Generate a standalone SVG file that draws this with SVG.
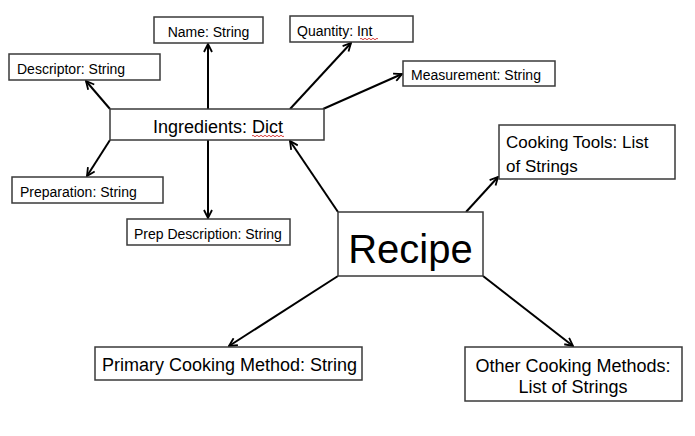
<svg xmlns="http://www.w3.org/2000/svg" width="695" height="436" viewBox="0 0 695 436">
<style>
.box{fill:#fff;stroke:#3a3a3a;stroke-width:1.5}
.t{font-family:"Liberation Sans",Arial,sans-serif;fill:#000}
.s{font-size:14px}
.m{font-size:17.5px}
.c{stroke:#000;stroke-width:2;fill:none;marker-end:url(#ah)}
.sq{stroke:#d01010;stroke-width:0.8;fill:none}
</style>
<defs>
<marker id="ah" viewBox="0 0 10 10" refX="9" refY="5" markerWidth="10" markerHeight="10" markerUnits="userSpaceOnUse" orient="auto">
<path d="M1,1 L9,5 L1,9" fill="none" stroke="#000" stroke-width="1.8"/>
</marker>
</defs>
<rect width="695" height="436" fill="#fff"/>
<g id="connectors">
<line class="c" x1="110" y1="109" x2="86" y2="81"/>
<line class="c" x1="208" y1="109" x2="208" y2="44"/>
<line class="c" x1="290" y1="109" x2="351" y2="43"/>
<line class="c" x1="323" y1="109" x2="402" y2="74"/>
<line class="c" x1="110" y1="140" x2="87" y2="176"/>
<line class="c" x1="208" y1="140" x2="208" y2="218"/>
<line class="c" x1="338" y1="212" x2="290" y2="141"/>
<line class="c" x1="466" y1="212" x2="498" y2="177"/>
<line class="c" x1="338" y1="276" x2="229" y2="346"/>
<line class="c" x1="483" y1="276" x2="573" y2="346"/>
</g>
<g id="name"><rect class="box" x="154" y="17" width="109" height="26"/><text class="t s" x="208.5" y="37" text-anchor="middle">Name: String</text></g>
<g id="descriptor"><rect class="box" x="9" y="54" width="151" height="26"/><text class="t s" x="17" y="74">Descriptor: String</text></g>
<g id="quantity"><rect class="box" x="290" y="16" width="123" height="26"/><text class="t s" x="297" y="36">Quantity: Int</text><path class="sq" d="M360,39 q1,-1.5 2,0 t2,0 t2,0 t2,0 t2,0 t2,0 t2,0 t2,0 t2,0"/></g>
<g id="measurement"><rect class="box" x="403" y="61" width="152" height="25"/><text class="t s" x="411" y="80">Measurement: String</text></g>
<g id="ingredients"><rect class="box" x="110" y="109" width="214" height="31"/><text class="t" font-size="18" x="153" y="133">Ingredients: Dict</text><path class="sq" d="M252,136 q1,-1.5 2,0 t2,0 t2,0 t2,0 t2,0 t2,0 t2,0 t2,0 t2,0 t2,0 t2,0 t2,0 t2,0 t2,0 t2,0 t2,0"/></g>
<g id="preparation"><rect class="box" x="12" y="177" width="151" height="26"/><text class="t s" x="20" y="197">Preparation: String</text></g>
<g id="prep-description"><rect class="box" x="127" y="219" width="163" height="26"/><text class="t s" x="134" y="239">Prep Description: String</text></g>
<g id="cooking-tools"><rect class="box" x="499" y="125" width="176" height="54"/><text class="t" font-size="17" x="506" y="148">Cooking Tools: List</text><text class="t" font-size="17" x="506" y="172">of Strings</text></g>
<g id="recipe"><rect class="box" x="338" y="212" width="145" height="64"/><text class="t" font-size="40" x="410.5" y="263" text-anchor="middle">Recipe</text></g>
<g id="primary"><rect class="box" x="95" y="347" width="267" height="33"/><text class="t" font-size="18" x="102" y="371">Primary Cooking Method: String</text></g>
<g id="other"><rect class="box" x="465" y="347" width="217" height="54"/><text class="t" font-size="18" x="573" y="372" text-anchor="middle">Other Cooking Methods:</text><text class="t" font-size="18" x="573" y="393" text-anchor="middle">List of Strings</text></g>
</svg>
